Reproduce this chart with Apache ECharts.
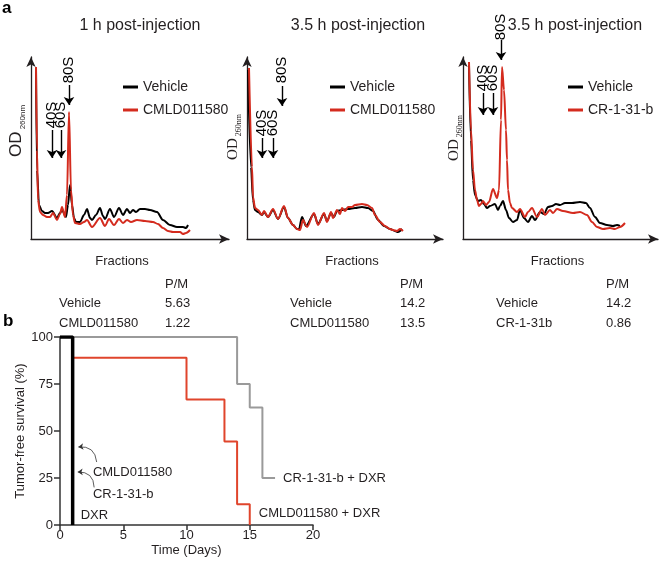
<!DOCTYPE html>
<html><head><meta charset="utf-8">
<script src="https://cdn.jsdelivr.net/npm/echarts@6/dist/echarts.min.js"></script>
<style>html,body{margin:0;padding:0;background:#fff}#c{width:660px;height:567px}</style>
</head><body><div id="c"></div>
<script>
const FONT = "'Liberation Sans', Arial, Helvetica, sans-serif";
const SERIF = "'Liberation Serif', 'Times New Roman', serif";
const INK = '#231f20';
const RED = '#d42b1e';
const RED_B = '#e0452c';
const GREY = '#9a9a9a';

const panelTitles = ['1 h post-injection', '3.5 h post-injection', '3.5 h post-injection'];
const vehicleName = 'Vehicle';
const treatNames = ['CMLD011580', 'CMLD011580', 'CR-1-31-b'];

// polysome profiles: [fraction position, OD260] (arbitrary units)
const p1Vehicle = [[5,172],[6,69],[8,34],[11,28],[14,26],[17,26],[21,28],[26,21],[29,26],[31,29],[35,22],[37,34],[39,54],[41,34],[43,21],[45,17],[49,17],[53,24],[56,30],[59,21],[61,19],[65,24],[69,31],[72,23],[74,20],[79,30],[83,22],[88,31],[92,24],[96,30],[99,26],[102,29],[105,27],[109,30],[114,30],[119,29],[126,27],[132,19],[139,14],[146,12],[152,12],[155,11],[157,14]];
const p1Treat = [[5,172],[6,89],[7,39],[9,27],[12,24],[16,22],[19,22],[22,26],[26,19],[29,25],[31,32],[34,22],[36,44],[38,127],[40,49],[42,24],[44,16],[49,15],[53,17],[56,19],[61,12],[69,21],[74,13],[78,20],[83,14],[88,20],[92,16],[96,19],[100,17],[106,19],[114,18],[122,17],[127,15],[132,11],[137,8],[142,7],[149,7],[152,5],[155,6],[159,9]];
const p2Vehicle = [[1,169],[4,72],[6,39],[8,29],[11,27],[15,24],[17,27],[21,22],[26,29],[31,20],[37,32],[41,21],[46,14],[50,10],[52,10],[55,22],[59,13],[67,25],[71,15],[77,25],[80,18],[84,26],[87,22],[90,28],[95,29],[101,30],[108,31],[115,32],[121,31],[126,28],[131,19],[137,13],[143,10],[148,8],[151,7],[155,10]];
const p2Treat = [[2,171],[5,72],[6,42],[8,31],[11,29],[15,24],[17,28],[21,22],[26,30],[31,20],[37,33],[41,21],[46,14],[50,10],[53,9],[56,19],[60,12],[67,26],[71,14],[77,26],[80,17],[84,27],[86,21],[90,29],[93,25],[95,31],[98,28],[101,32],[105,32],[108,34],[115,35],[120,34],[125,31],[128,24],[133,17],[138,13],[143,10],[146,9],[150,8],[153,10],[156,8]];
const p3Vehicle = [[6,174],[8,99],[10,59],[12,44],[15,38],[18,39],[21,35],[24,31],[27,33],[32,35],[35,29],[37,33],[40,38],[43,29],[46,21],[50,17],[54,19],[57,29],[61,21],[65,17],[69,23],[72,19],[77,27],[81,25],[85,32],[89,33],[93,35],[97,34],[102,36],[109,36],[117,37],[123,36],[127,31],[132,22],[137,16],[144,14],[150,13],[154,14],[157,13]];
const p3Treat = [[6,177],[8,109],[10,69],[12,49],[14,39],[16,33],[18,35],[20,38],[23,34],[26,37],[30,50],[34,41],[36,49],[38,119],[39,172],[41,149],[43,109],[44,79],[45,49],[47,36],[49,31],[54,27],[57,30],[62,22],[65,27],[69,31],[74,22],[79,30],[82,24],[87,29],[90,26],[94,30],[100,28],[110,26],[117,27],[124,24],[129,17],[134,12],[140,10],[147,11],[152,10],[157,12],[162,16]];
const profiles = [[p1Vehicle, p1Treat], [p2Vehicle, p2Treat], [p3Vehicle, p3Treat]];

// ribosome peak markers
const markerNames = ['40S', '60S', '80S'];
const markerX = [[21, 30, 38], [15, 26, 35], [20, 30, 38]];
const markerTextY = [[124, 124, 169], [116, 116, 169], [161, 161, 212]];
const markerArrowTop = [[109, 109, 154], [101, 101, 153], [146, 146, 199]];
const markerArrowBottom = [[81, 81, 134], [81, 81, 133], [124, 124, 179]];

// P/M ratio tables
const pmRowNames = [['Vehicle', 'CMLD011580'], ['Vehicle', 'CMLD011580'], ['Vehicle', 'CR-1-31b']];
const pmValues = [['5.63', '1.22'], ['14.2', '13.5'], ['14.2', '0.86']];

// survival (panel b): [day, % tumor-free]
const survCR = [[0,100],[14,75],[15,62.5],[16,25],[17,25]];
const survCMLD = [[0,100],[1,88.9],[10,66.7],[13,44.4],[14,11.1],[15,0]];
const survDXR = [[0,100],[1,0]];
const survNames = ['CR-1-31-b + DXR', 'CMLD011580 + DXR', 'DXR'];
const survAnnot = [['CMLD011580', 2.6, 28.2, [2.9, 33.5], [1.45, 41.5]], ['CR-1-31-b', 2.6, 16, [2.7, 20], [1.4, 28.2]]];

const gridsPx = [
  {left: 31, top: 57, width: 198, height: 182},
  {left: 247, top: 57, width: 196, height: 182},
  {left: 463, top: 57, width: 195, height: 182},
  {left: 60, top: 337, width: 253, height: 188}
];

const chart = echarts.init(document.getElementById('c'), null, {renderer: 'canvas'});

const xAxes = [], yAxes = [], series = [], legends = [];
for (let i = 0; i < 3; i++) {
  const g = gridsPx[i];
  xAxes.push({
    gridIndex: i, type: 'value', min: 0, max: g.width,
    axisLine: {show: true, lineStyle: {color: INK, width: 1.3}, symbol: ['none', 'arrow'], symbolSize: [7, 10]},
    axisTick: {show: false}, axisLabel: {show: false}, splitLine: {show: false},
    name: 'Fractions', nameLocation: 'middle', nameGap: 16,
    nameTextStyle: {fontFamily: FONT, fontSize: 13, color: INK, padding: i === 0 ? [0, 16, 0, 0] : (i === 1 ? [0, 0, 0, 14] : [0, 6, 0, 0])}
  });
  yAxes.push({
    gridIndex: i, type: 'value', min: 0, max: g.height,
    axisLine: {show: true, lineStyle: {color: INK, width: 1.3}, symbol: ['none', 'arrow'], symbolSize: [7, 10]},
    axisTick: {show: false}, axisLabel: {show: false}, splitLine: {show: false}
  });
  const [veh, trt] = profiles[i];
  series.push({
    name: vehicleName, type: 'line', xAxisIndex: i, yAxisIndex: i, data: veh,
    showSymbol: false, smooth: 0.3, smoothMonotone: 'x', lineStyle: {color: '#000', width: 2}, itemStyle: {color: '#000'}, z: 2
  });
  series.push({
    name: treatNames[i], type: 'line', xAxisIndex: i, yAxisIndex: i, data: trt,
    showSymbol: false, smooth: 0.3, smoothMonotone: 'x', lineStyle: {color: RED, width: 2}, itemStyle: {color: RED}, z: 3
  });
  series.push({
    type: 'scatter', xAxisIndex: i, yAxisIndex: i, symbolSize: 0, clip: false, silent: true,
    itemStyle: {opacity: 1},
    data: markerNames.map((n, k) => ({name: n, value: [markerX[i][k], markerTextY[i][k]]})),
    label: {show: true, formatter: '{b}', rotate: 90, position: 'inside', fontFamily: FONT, fontSize: 15, color: '#000'}
  });
  series.push({
    type: 'lines', coordinateSystem: 'cartesian2d', xAxisIndex: i, yAxisIndex: i, silent: true, clip: false,
    symbol: ['none', 'arrow'], symbolSize: 8,
    lineStyle: {color: '#000', width: 1.4, opacity: 1},
    data: markerNames.map((n, k) => ({coords: [[markerX[i][k], markerArrowTop[i][k]], [markerX[i][k], markerArrowBottom[i][k]]]}))
  });
  legends.push({
    data: [vehicleName, treatNames[i]], orient: 'vertical', selectedMode: false,
    left: [118, 325, 563][i], top: 75, itemWidth: 15, itemHeight: 3, itemGap: 9, icon: 'rect',
    textStyle: {fontFamily: FONT, fontSize: 14, color: INK}
  });
}

// survival panel
xAxes.push({
  gridIndex: 3, type: 'value', min: 0, max: 20, interval: 5,
  axisLine: {lineStyle: {color: '#333', width: 1.5}}, axisTick: {length: 5, lineStyle: {color: '#333', width: 1.5}},
  axisLabel: {fontFamily: FONT, fontSize: 13, color: INK, margin: 4}, splitLine: {show: false},
  name: 'Time (Days)', nameLocation: 'middle', nameGap: 19, nameTextStyle: {fontFamily: FONT, fontSize: 13, color: INK}
});
yAxes.push({
  gridIndex: 3, type: 'value', min: 0, max: 100, interval: 25,
  axisLine: {show: true, lineStyle: {color: '#333', width: 1.5}}, axisTick: {show: true, length: 6, lineStyle: {color: '#333', width: 1.5}},
  axisLabel: {fontFamily: FONT, fontSize: 13, color: INK, margin: 7}, splitLine: {show: false},
  name: 'Tumor-free survival (%)', nameLocation: 'middle', nameGap: 33, nameTextStyle: {fontFamily: FONT, fontSize: 13, color: INK}
});
series.push({
  name: survNames[0], type: 'line', step: 'end', xAxisIndex: 3, yAxisIndex: 3, data: survCR, showSymbol: false,
  lineStyle: {color: GREY, width: 2}, itemStyle: {color: GREY}, z: 2,
  endLabel: {show: true, formatter: '{a}', distance: 8, fontFamily: FONT, fontSize: 13, color: INK}
});
series.push({
  name: survNames[1], type: 'line', step: 'end', xAxisIndex: 3, yAxisIndex: 3, data: survCMLD, showSymbol: false,
  lineStyle: {color: RED_B, width: 2}, itemStyle: {color: RED_B}, z: 3,
  endLabel: {show: true, formatter: '{a}', distance: 0, offset: [9, -12], fontFamily: FONT, fontSize: 13, color: INK}
});
series.push({
  name: survNames[2], type: 'line', step: 'end', xAxisIndex: 3, yAxisIndex: 3, data: survDXR, showSymbol: false,
  lineStyle: {color: '#000', width: 3.5}, itemStyle: {color: '#000'}, z: 4,
  endLabel: {show: true, formatter: '{a}', distance: 0, offset: [8, -10], fontFamily: FONT, fontSize: 13, color: INK}
});
series.push({
  type: 'scatter', xAxisIndex: 3, yAxisIndex: 3, symbolSize: 0, silent: true, clip: false,
  itemStyle: {opacity: 1},
  data: survAnnot.map(a => ({name: a[0], value: [a[1], a[2]]})),
  label: {show: true, formatter: '{b}', position: 'right', distance: 0, fontFamily: FONT, fontSize: 13, color: INK}
});
series.push({
  type: 'lines', coordinateSystem: 'cartesian2d', xAxisIndex: 3, yAxisIndex: 3, silent: true,
  symbol: ['none', 'arrow'], symbolSize: 5,
  lineStyle: {color: '#333', width: 0.8, curveness: -0.5, opacity: 1},
  data: survAnnot.map(a => ({coords: [a[3], a[4]]}))
});

// texts (titles, panel letters, axis names, tables)
const graphic = [];
graphic.push({type: 'text', left: 2, top: 0, style: {text: 'a', font: 'bold 17px ' + FONT, fill: '#000'}});
graphic.push({type: 'text', left: 3, top: 313, style: {text: 'b', font: 'bold 17px ' + FONT, fill: '#000'}});
const titleX = [140, 358, 575];
panelTitles.forEach((t, i) => graphic.push({type: 'text', x: titleX[i], y: 26,
  style: {text: t, font: '16px ' + FONT, fill: INK, align: 'center', verticalAlign: 'middle'}}));
const odX = [16, 232, 453], odY = [131, 137, 138];
for (let i = 0; i < 3; i++) {
  const fam = i === 0 ? FONT : SERIF;
  graphic.push({type: 'text', x: odX[i], y: odY[i], rotation: Math.PI / 2,
    style: {text: '{od|OD}{sub| 260nm}', align: 'center', verticalAlign: 'middle',
      rich: {od: {fontFamily: fam, fontSize: i === 0 ? 17 : 15, fill: INK, verticalAlign: 'bottom', lineHeight: 18},
             sub: {fontFamily: fam, fontSize: 8, fill: INK, verticalAlign: 'bottom', lineHeight: 18, padding: [0, 0, -2, 0]}}}});
}
const tabNameX = [59, 290, 496], tabValX = [165, 400, 606];
for (let i = 0; i < 3; i++) {
  graphic.push({type: 'text', x: tabValX[i], y: 284, style: {text: 'P/M', font: '13px ' + FONT, fill: INK, verticalAlign: 'middle'}});
  pmRowNames[i].forEach((n, r) => {
    graphic.push({type: 'text', x: tabNameX[i], y: 303 + r * 20, style: {text: n, font: '13px ' + FONT, fill: INK, verticalAlign: 'middle'}});
    graphic.push({type: 'text', x: tabValX[i], y: 303 + r * 20, style: {text: pmValues[i][r], font: '13px ' + FONT, fill: INK, verticalAlign: 'middle'}});
  });
}

chart.setOption({
  animation: false,
  backgroundColor: '#fff',
  grid: gridsPx.map(g => Object.assign({containLabel: false}, g)),
  xAxis: xAxes, yAxis: yAxes, series: series, legend: legends, graphic: graphic
});
</script></body></html>
